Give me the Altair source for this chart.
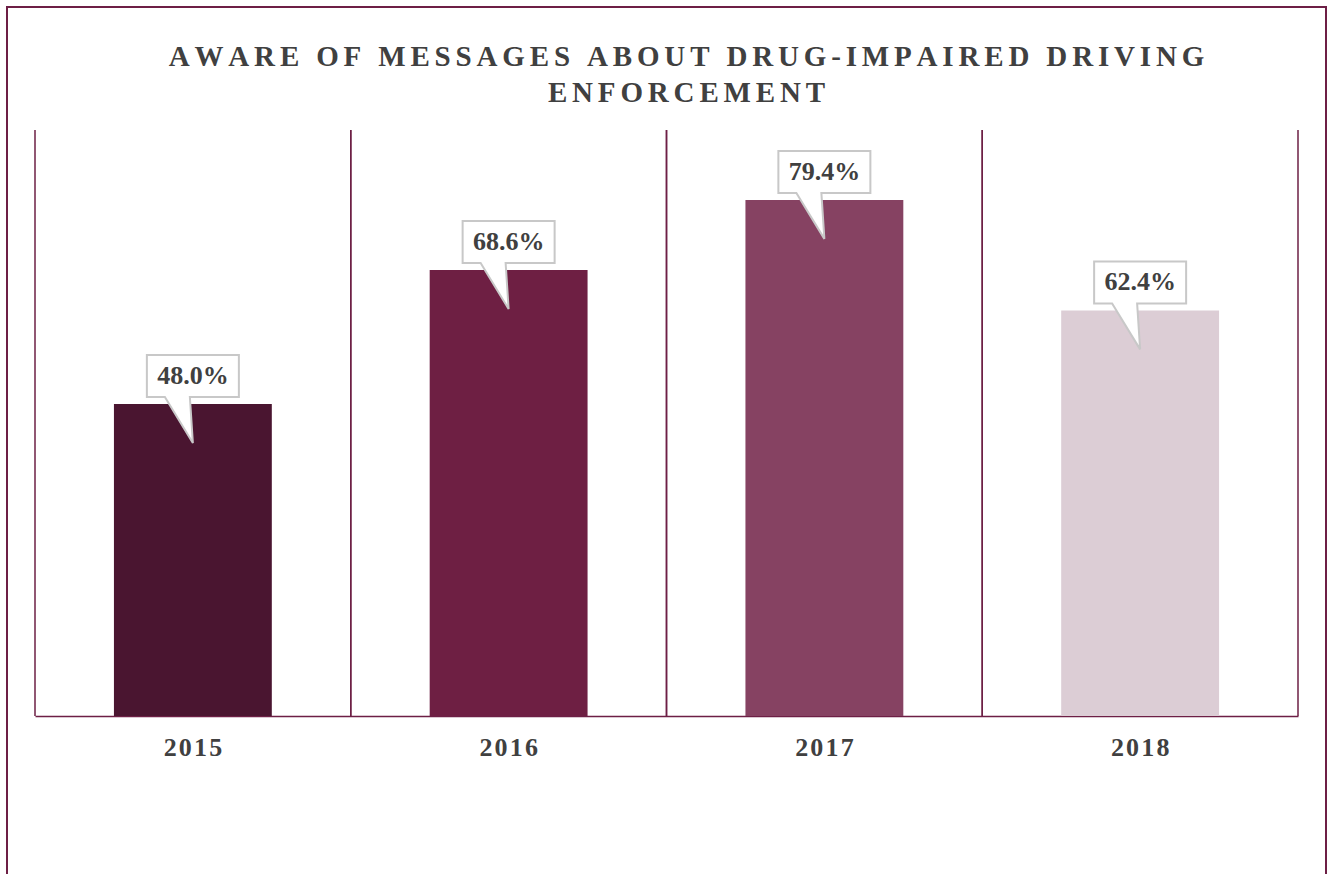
import altair as alt
import pandas as pd

years = ["2015", "2016", "2017", "2018"]
values = [48.0, 68.6, 79.4, 62.4]
labels = ["48.0%", "68.6%", "79.4%", "62.4%"]
colors = ["#4a1530", "#6e1f43", "#864262", "#dccdd5"]
title_lines = ["AWARE OF MESSAGES ABOUT DRUG-IMPAIRED DRIVING", "ENFORCEMENT"]

HAIR = "\u200a"
MAROON = "#6d1f45"
TEXT = "#404040"
FONT = "Liberation Serif"


def spaced(s, sep):
    return sep.join(s)


df = pd.DataFrame({"year": years, "value": values, "label": labels})

W, H = 1263, 586
xscale = alt.Scale(domain=years, paddingInner=0, paddingOuter=0)
yscale = alt.Scale(domain=[0, 90.15])

base = alt.Chart(df)

bars = base.mark_bar(width=alt.RelativeBandSize(0.5)).encode(
    x=alt.X(
        "year:N",
        scale=xscale,
        sort=years,
        axis=alt.Axis(
            title=None,
            ticks=False,
            grid=False,
            bandPosition=0.5,
            domainColor=MAROON,
            domainWidth=1.5,
            labelAngle=0,
            labelAlign="center",
            labelFont=FONT,
            labelFontSize=26,
            labelFontWeight="bold",
            labelColor=TEXT,
            labelPadding=31,
            labelExpr="join(split(datum.label, ''), '" + HAIR + "')",
        ),
    ),
    y=alt.Y("value:Q", scale=yscale, axis=None),
    color=alt.Color("year:N", scale=alt.Scale(domain=years, range=colors), legend=None),
)

rules_left = base.mark_rule(color=MAROON, strokeWidth=1.5).encode(
    x=alt.X("year:N", scale=xscale, sort=years, bandPosition=0)
)
rules_right = base.mark_rule(color=MAROON, strokeWidth=1.5).encode(
    x=alt.X("year:N", scale=xscale, sort=years, bandPosition=1)
)

CALLOUT = ("M-0.46,-0.49 L0.46,-0.49 L0.46,-0.07 L-0.03,-0.07 L0,0.39 "
           "L-0.28,-0.07 L-0.46,-0.07 Z")

callouts = base.mark_point(
    shape=CALLOUT,
    size=40000,
    filled=True,
    fill="white",
    fillOpacity=1,
    stroke="#c8c8c8",
    strokeOpacity=1,
    strokeWidth=2,
    strokeJoin="miter",
).encode(
    x=alt.X("year:N", scale=xscale, sort=years),
    y=alt.Y("value:Q", scale=yscale),
)

texts = base.mark_text(
    dy=-28,
    font=FONT,
    fontSize=26,
    fontWeight="bold",
    color=TEXT,
    baseline="middle",
    align="center",
).encode(
    x=alt.X("year:N", scale=xscale, sort=years),
    y=alt.Y("value:Q", scale=yscale),
    text="label:N",
)

border = alt.Chart(alt.Data(values=[{"a": 1}])).mark_rect(
    fill="transparent", stroke=MAROON, strokeWidth=2
).encode(
    x=alt.value(-28), x2=alt.value(1291), y=alt.value(-123), y2=alt.value(1000)
)

chart = alt.layer(border, rules_left, rules_right, bars, callouts, texts).properties(
    width=W,
    height=H,
    title=alt.TitleParams(
        text=[spaced(t, HAIR + HAIR) for t in title_lines],
        font=FONT,
        fontSize=29,
        fontWeight="bold",
        color=TEXT,
        anchor="middle",
        lineHeight=36,
        offset=-102,
        dx=20,
    ),
    autosize=alt.AutoSizeParams(type="none"),
    padding={"left": 35, "top": 130, "right": 37, "bottom": 158},
    background="white",
).configure_view(stroke=None)

chart.save("out.html", embed_options={"renderer": "svg", "actions": False})
